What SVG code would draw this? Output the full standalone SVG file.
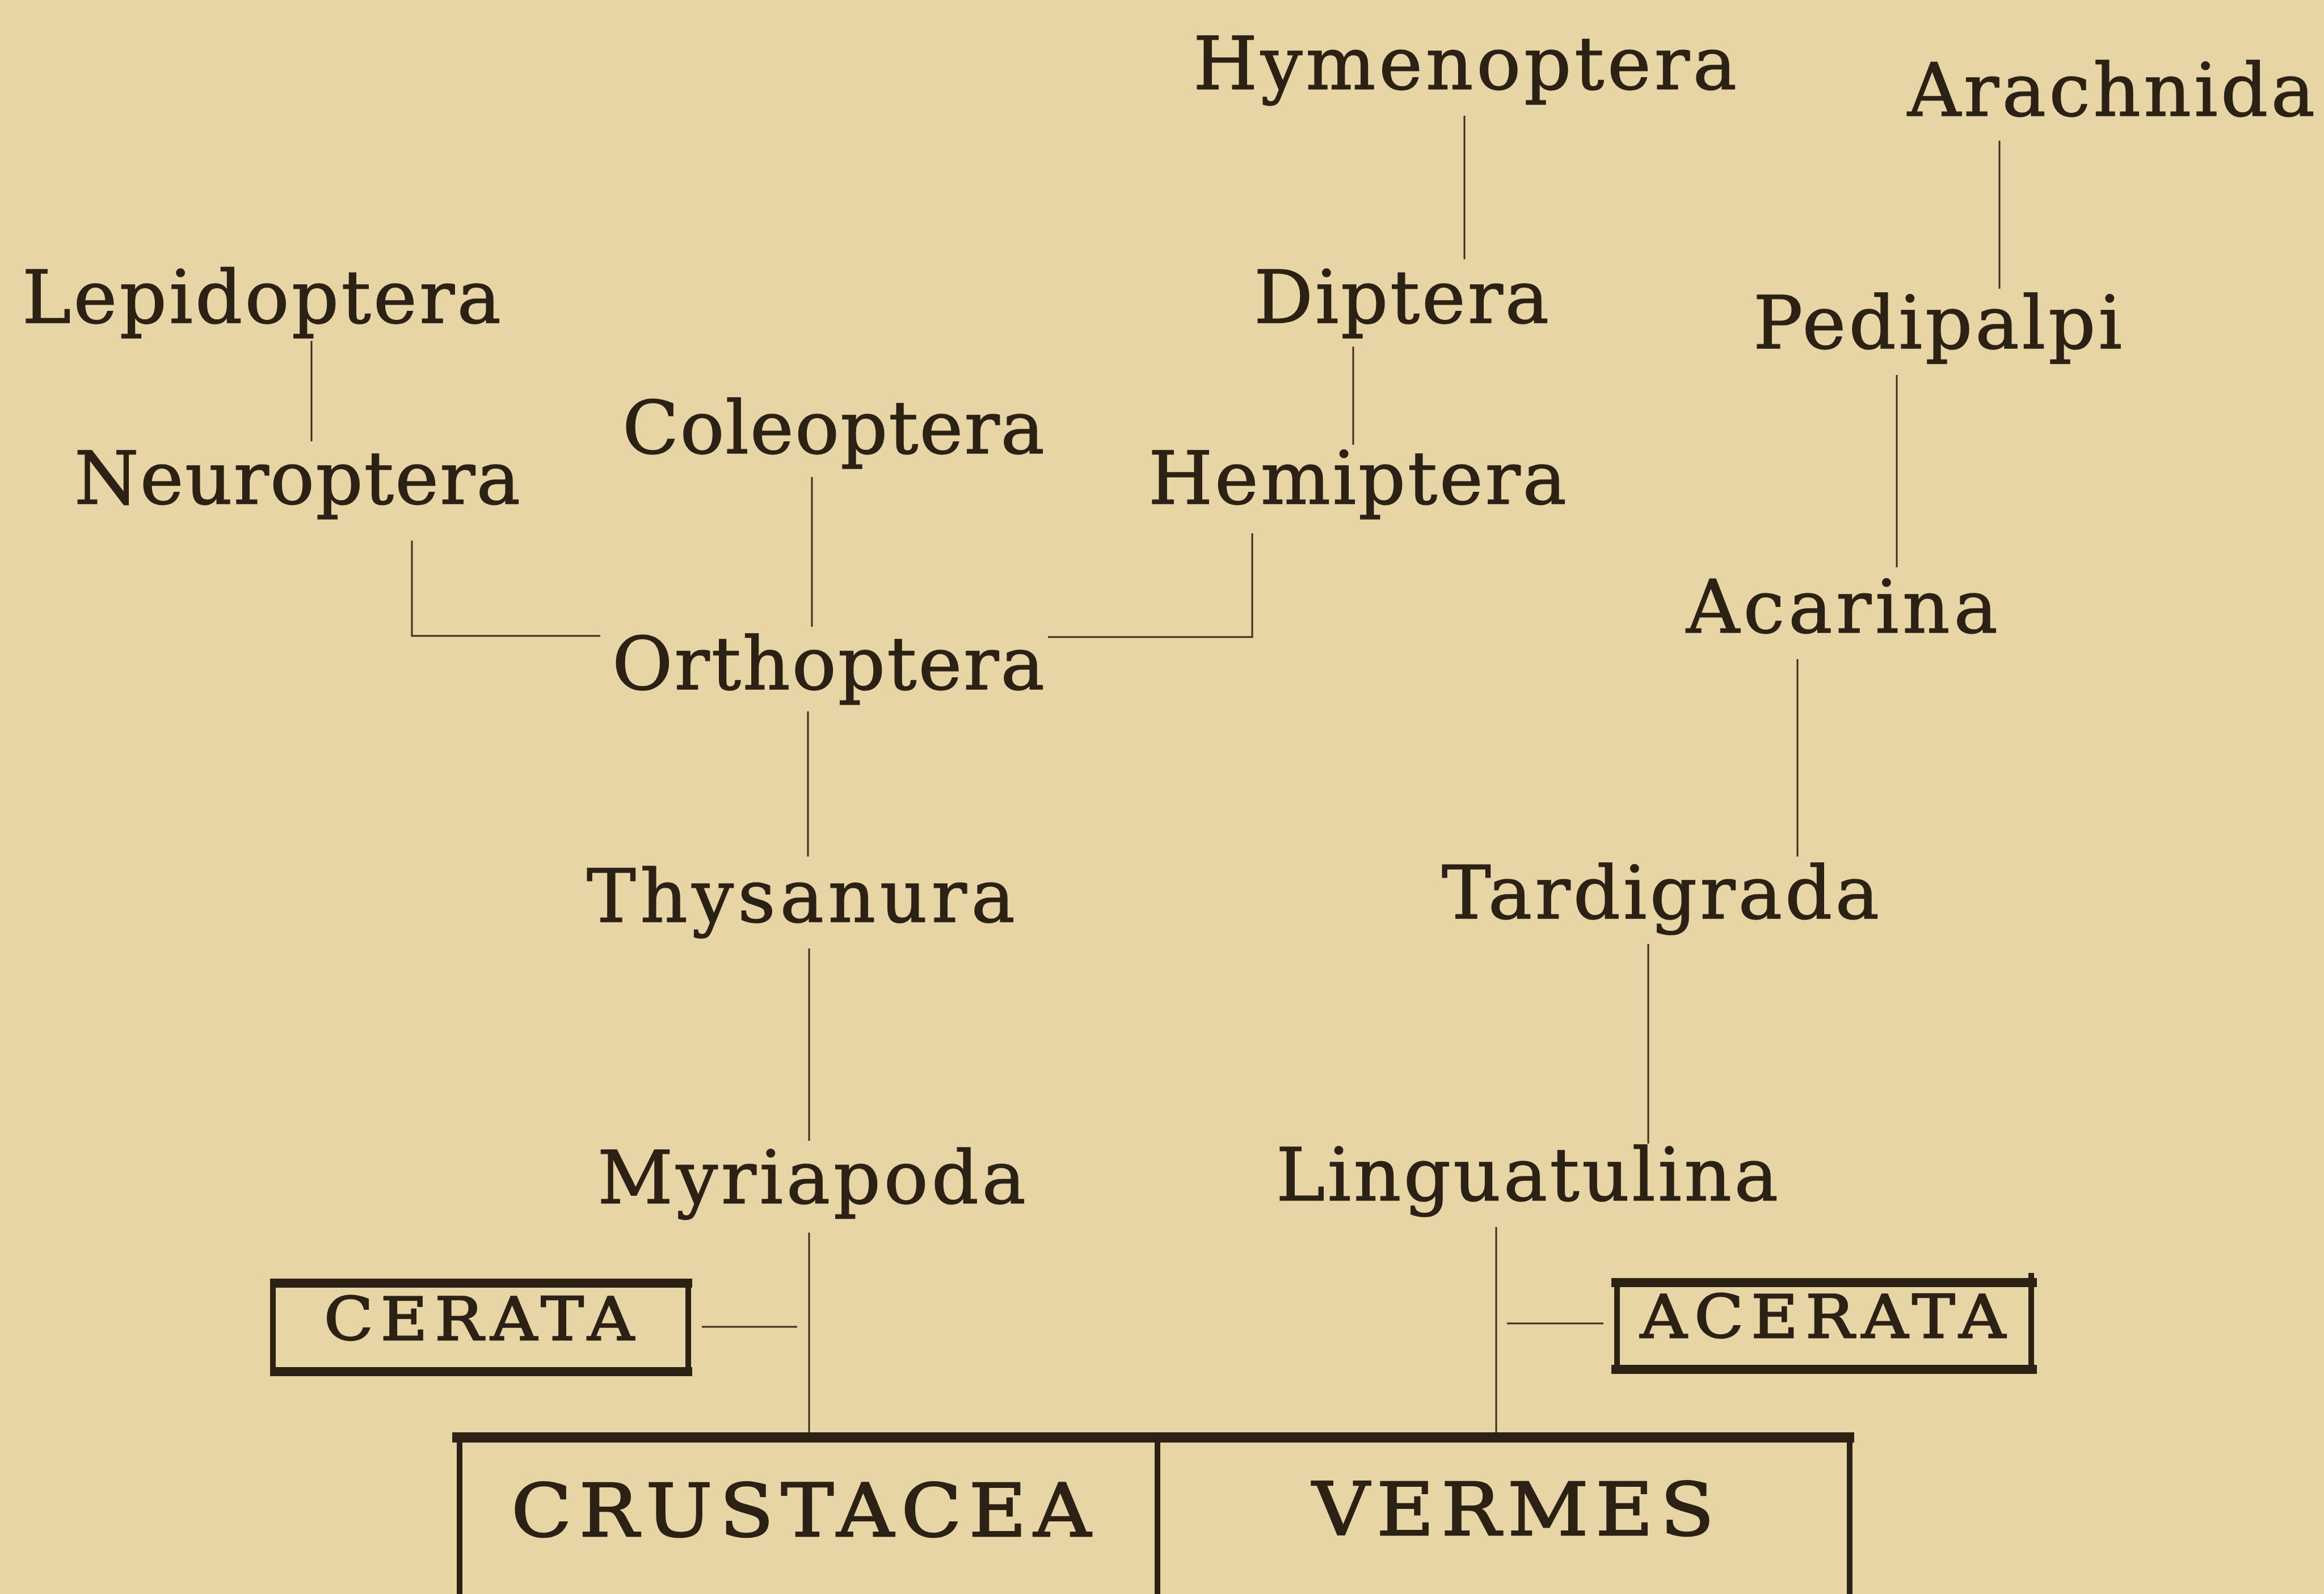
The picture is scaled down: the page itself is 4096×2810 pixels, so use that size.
<svg xmlns="http://www.w3.org/2000/svg" width="4096" height="2810" viewBox="0 0 4096 2810">
<style>
.bg{fill:#E8D5A5}
.t{font-family:"DejaVu Serif","Liberation Serif",serif;font-size:130px;fill:#2B2114;stroke:#2B2114;stroke-width:1.5}
.c{font-family:"DejaVu Serif","Liberation Serif",serif;fill:#2B2114;stroke:#2B2114;stroke-width:2.5}
.ln{stroke:#3A2E1E;stroke-width:3;fill:none}
.bar{stroke:#2B2114;stroke-width:16;fill:none}
.side{stroke:#2B2114;stroke-width:10;fill:none}
</style>
<rect class="bg" x="0" y="0" width="4096" height="2810"/>
<g id="connectors">
<line class="ln" x1="2581" y1="204" x2="2581" y2="457"/>
<line class="ln" x1="3524" y1="248" x2="3524" y2="509"/>
<line class="ln" x1="549" y1="601" x2="549" y2="778"/>
<line class="ln" x1="2385" y1="611" x2="2385" y2="784"/>
<line class="ln" x1="3343" y1="661" x2="3343" y2="1000"/>
<line class="ln" x1="1431" y1="841" x2="1431" y2="1105"/>
<polyline class="ln" points="726,953 726,1121 1058,1121"/>
<polyline class="ln" points="2207,940 2207,1123 1847,1123"/>
<line class="ln" x1="1424" y1="1254" x2="1424" y2="1510"/>
<line class="ln" x1="3168" y1="1162" x2="3168" y2="1510"/>
<line class="ln" x1="1426" y1="1672" x2="1426" y2="2011"/>
<line class="ln" x1="2905" y1="1664" x2="2905" y2="2016"/>
<line class="ln" x1="1426" y1="2173" x2="1426" y2="2526"/>
<line class="ln" x1="1237" y1="2339" x2="1405" y2="2339"/>
<line class="ln" x1="2637" y1="2163" x2="2637" y2="2526"/>
<line class="ln" x1="2656" y1="2333" x2="2826" y2="2333"/>
</g>
<g id="hymenoptera"><text class="t" x="2103" y="157" textLength="958" lengthAdjust="spacing">Hymenoptera</text></g>
<g id="arachnida"><text class="t" x="3362" y="204" textLength="718" lengthAdjust="spacing">Arachnida</text></g>
<g id="lepidoptera"><text class="t" x="39" y="569" textLength="844" lengthAdjust="spacing">Lepidoptera</text></g>
<g id="diptera"><text class="t" x="2210" y="569" textLength="520" lengthAdjust="spacing">Diptera</text></g>
<g id="pedipalpi"><text class="t" x="3090" y="614" textLength="650" lengthAdjust="spacing">Pedipalpi</text></g>
<g id="coleoptera"><text class="t" x="1097" y="799" textLength="744" lengthAdjust="spacing">Coleoptera</text></g>
<g id="neuroptera"><text class="t" x="131" y="888" textLength="786" lengthAdjust="spacing">Neuroptera</text></g>
<g id="hemiptera"><text class="t" x="2024" y="888" textLength="737" lengthAdjust="spacing">Hemiptera</text></g>
<g id="acarina"><text class="t" x="2972" y="1115" textLength="549" lengthAdjust="spacing">Acarina</text></g>
<g id="orthoptera"><text class="t" x="1079" y="1215" textLength="762" lengthAdjust="spacing">Orthoptera</text></g>
<g id="thysanura"><text class="t" x="1034" y="1625" textLength="755" lengthAdjust="spacing">Thysanura</text></g>
<g id="tardigrada"><text class="t" x="2541" y="1619" textLength="771" lengthAdjust="spacing">Tardigrada</text></g>
<g id="myriapoda"><text class="t" x="1053" y="2121" textLength="755" lengthAdjust="spacing">Myriapoda</text></g>
<g id="linguatulina"><text class="t" x="2249" y="2116" textLength="885" lengthAdjust="spacing">Linguatulina</text></g>
<g id="cerata">
<line class="bar" x1="476" y1="2262" x2="1220" y2="2262"/>
<line class="bar" x1="476" y1="2418" x2="1220" y2="2418"/>
<line class="side" x1="481" y1="2255" x2="481" y2="2425"/>
<line class="side" x1="1213" y1="2255" x2="1213" y2="2425"/>
<text class="c" font-size="105" transform="translate(571,2362) scale(1.08,1)" x="0" y="0" textLength="506" lengthAdjust="spacing">CERATA</text>
</g>
<g id="acerata">
<line class="bar" x1="2840" y1="2261" x2="3590" y2="2261"/>
<line class="bar" x1="2840" y1="2414" x2="3590" y2="2414"/>
<line class="side" x1="2850" y1="2254" x2="2850" y2="2421"/>
<line class="side" x1="3580" y1="2244" x2="3580" y2="2421"/>
<text class="c" font-size="105" transform="translate(2891,2358) scale(1.08,1)" x="0" y="0" textLength="596" lengthAdjust="spacing">ACERATA</text>
</g>
<g id="crustacea-vermes">
<line class="bar" x1="797" y1="2534" x2="3268" y2="2534" style="stroke-width:18"/>
<line class="side" x1="810" y1="2534" x2="810" y2="2810"/>
<line class="side" x1="2040" y1="2534" x2="2040" y2="2810"/>
<line class="side" x1="3260" y1="2534" x2="3260" y2="2810"/>
</g>
<g id="crustacea"><text class="c" font-size="129" transform="translate(901,2708) scale(1.08,1)" x="0" y="0" textLength="946" lengthAdjust="spacing">CRUSTACEA</text></g>
<g id="vermes"><text class="c" font-size="129" transform="translate(2313,2706) scale(1.08,1)" x="0" y="0" textLength="656" lengthAdjust="spacing">VERMES</text></g>
</svg>
